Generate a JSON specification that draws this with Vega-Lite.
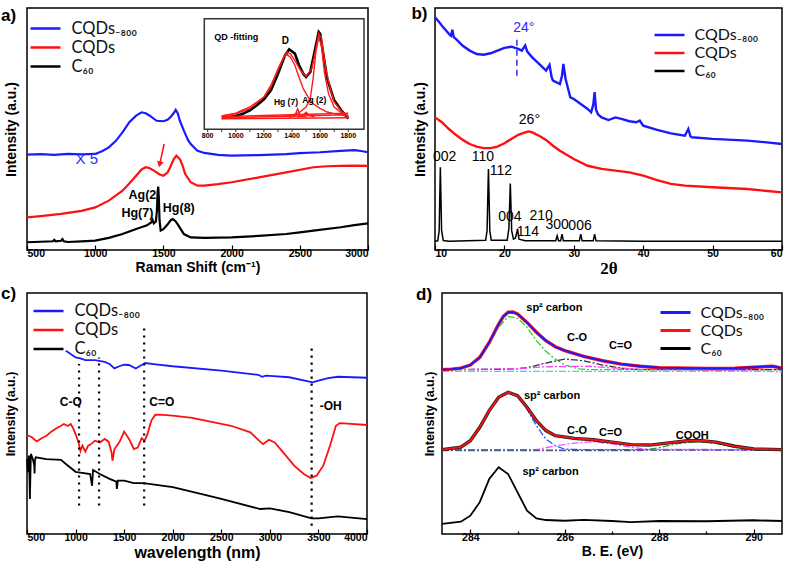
{
"$schema": "https://vega.github.io/schema/vega-lite/v6.json",
"background": "white",
"padding": {"left": 0, "top": 4, "right": 0, "bottom": 0},
"config": {
  "view": {"stroke": "#000", "strokeWidth": 1.5},
  "font": "Liberation Sans",
  "axis": {"grid": false, "domain": false, "labelFont": "Liberation Sans", "labelFontWeight": "bold", "labelFontSize": 10.5, "labelColor": "#000", "titleFont": "Liberation Sans", "titleFontWeight": "bold", "titleFontSize": 14, "titleColor": "#000", "tickColor": "#000", "tickWidth": 1.2, "labelPadding": 3, "titlePadding": 2},
  "axisY": {"labels": false, "ticks": false, "titlePadding": 9},
  "legend": {"title": null, "symbolType": "M-2,0L2,0", "symbolSize": 225, "symbolStrokeWidth": 2.5, "labelFont": "Lato", "labelColor": "#111", "rowPadding": 1, "labelOffset": 17, "padding": 0, "orient": "none"},
  "text": {"font": "Liberation Sans", "color": "#000"}
},
"resolve": {"scale": {"color": "independent"}},
"bounds": "full",
"spacing": 6,
"vconcat": [
{
"bounds": "flush",
"spacing": 67,
"resolve": {"scale": {"color": "independent"}},
"hconcat": [
{
  "width": 341, "height": 242,
  "resolve": {"scale": {"x": "independent", "y": "independent", "color": "independent"}},
  "layer": [
  {
    "layer": [
    {
      "data": {"values": [
        {"s":"CQDs₋₈₀₀","x":500,"y":39.4},{"s":"CQDs₋₈₀₀","x":600,"y":39.6},{"s":"CQDs₋₈₀₀","x":700,"y":39.3},{"s":"CQDs₋₈₀₀","x":800,"y":39.7},{"s":"CQDs₋₈₀₀","x":900,"y":39.5},{"s":"CQDs₋₈₀₀","x":1000,"y":39.7},{"s":"CQDs₋₈₀₀","x":1050,"y":40.8},{"s":"CQDs₋₈₀₀","x":1100,"y":42.4},{"s":"CQDs₋₈₀₀","x":1150,"y":45.0},{"s":"CQDs₋₈₀₀","x":1200,"y":48.6},{"s":"CQDs₋₈₀₀","x":1250,"y":52.8},{"s":"CQDs₋₈₀₀","x":1300,"y":55.5},{"s":"CQDs₋₈₀₀","x":1340,"y":56.9},{"s":"CQDs₋₈₀₀","x":1370,"y":56.5},{"s":"CQDs₋₈₀₀","x":1400,"y":55.5},{"s":"CQDs₋₈₀₀","x":1450,"y":53.4},{"s":"CQDs₋₈₀₀","x":1500,"y":53.2},{"s":"CQDs₋₈₀₀","x":1530,"y":53.8},{"s":"CQDs₋₈₀₀","x":1550,"y":54.8},{"s":"CQDs₋₈₀₀","x":1575,"y":56.5},{"s":"CQDs₋₈₀₀","x":1590,"y":57.9},{"s":"CQDs₋₈₀₀","x":1605,"y":56.5},{"s":"CQDs₋₈₀₀","x":1620,"y":53.5},{"s":"CQDs₋₈₀₀","x":1650,"y":49.3},{"s":"CQDs₋₈₀₀","x":1680,"y":45.5},{"s":"CQDs₋₈₀₀","x":1700,"y":43.8},{"s":"CQDs₋₈₀₀","x":1750,"y":41.0},{"s":"CQDs₋₈₀₀","x":1800,"y":40.1},{"s":"CQDs₋₈₀₀","x":1900,"y":39.3},{"s":"CQDs₋₈₀₀","x":2000,"y":39.0},{"s":"CQDs₋₈₀₀","x":2200,"y":39.2},{"s":"CQDs₋₈₀₀","x":2400,"y":39.6},{"s":"CQDs₋₈₀₀","x":2500,"y":40.0},{"s":"CQDs₋₈₀₀","x":2650,"y":40.4},{"s":"CQDs₋₈₀₀","x":2800,"y":41.0},{"s":"CQDs₋₈₀₀","x":2900,"y":41.3},{"s":"CQDs₋₈₀₀","x":2950,"y":40.9},{"s":"CQDs₋₈₀₀","x":3000,"y":40.4},
        {"s":"CQDs","x":500,"y":13.5},{"s":"CQDs","x":600,"y":14.0},{"s":"CQDs","x":750,"y":14.9},{"s":"CQDs","x":900,"y":16.2},{"s":"CQDs","x":1000,"y":17.6},{"s":"CQDs","x":1100,"y":20.4},{"s":"CQDs","x":1200,"y":24.5},{"s":"CQDs","x":1250,"y":27.5},{"s":"CQDs","x":1300,"y":30.7},{"s":"CQDs","x":1340,"y":33.3},{"s":"CQDs","x":1370,"y":34.2},{"s":"CQDs","x":1400,"y":33.8},{"s":"CQDs","x":1430,"y":32.8},{"s":"CQDs","x":1470,"y":31.3},{"s":"CQDs","x":1500,"y":30.7},{"s":"CQDs","x":1530,"y":32.0},{"s":"CQDs","x":1550,"y":34.2},{"s":"CQDs","x":1575,"y":37.5},{"s":"CQDs","x":1595,"y":39.0},{"s":"CQDs","x":1620,"y":37.6},{"s":"CQDs","x":1640,"y":35.0},{"s":"CQDs","x":1660,"y":31.4},{"s":"CQDs","x":1700,"y":28.0},{"s":"CQDs","x":1750,"y":26.6},{"s":"CQDs","x":1800,"y":26.6},{"s":"CQDs","x":1900,"y":27.2},{"s":"CQDs","x":2000,"y":28.0},{"s":"CQDs","x":2200,"y":30.0},{"s":"CQDs","x":2400,"y":32.1},{"s":"CQDs","x":2600,"y":34.2},{"s":"CQDs","x":2700,"y":34.6},{"s":"CQDs","x":2800,"y":34.8},{"s":"CQDs","x":2900,"y":34.9},{"s":"CQDs","x":3000,"y":34.8},
        {"s":"C₆₀","x":500,"y":3.2},{"s":"C₆₀","x":600,"y":3.4},{"s":"C₆₀","x":690,"y":3.6},{"s":"C₆₀","x":700,"y":4.2},{"s":"C₆₀","x":710,"y":3.6},{"s":"C₆₀","x":750,"y":3.8},{"s":"C₆₀","x":760,"y":4.5},{"s":"C₆₀","x":770,"y":3.6},{"s":"C₆₀","x":800,"y":3.3},{"s":"C₆₀","x":900,"y":3.6},{"s":"C₆₀","x":1000,"y":3.9},{"s":"C₆₀","x":1100,"y":5.0},{"s":"C₆₀","x":1200,"y":6.6},{"s":"C₆₀","x":1300,"y":8.7},{"s":"C₆₀","x":1380,"y":10.2},{"s":"C₆₀","x":1410,"y":11.4},{"s":"C₆₀","x":1420,"y":12.5},{"s":"C₆₀","x":1430,"y":11.0},{"s":"C₆₀","x":1445,"y":11.8},{"s":"C₆₀","x":1452,"y":16},{"s":"C₆₀","x":1458,"y":24},{"s":"C₆₀","x":1462,"y":26.2},{"s":"C₆₀","x":1466,"y":22},{"s":"C₆₀","x":1472,"y":12},{"s":"C₆₀","x":1480,"y":8.0},{"s":"C₆₀","x":1500,"y":8.6},{"s":"C₆₀","x":1530,"y":10.5},{"s":"C₆₀","x":1555,"y":12.4},{"s":"C₆₀","x":1570,"y":12.8},{"s":"C₆₀","x":1590,"y":11.8},{"s":"C₆₀","x":1610,"y":10.2},{"s":"C₆₀","x":1650,"y":6.6},{"s":"C₆₀","x":1700,"y":5.2},{"s":"C₆₀","x":1800,"y":5.0},{"s":"C₆₀","x":2000,"y":5.2},{"s":"C₆₀","x":2200,"y":5.8},{"s":"C₆₀","x":2400,"y":6.6},{"s":"C₆₀","x":2500,"y":7.3},{"s":"C₆₀","x":2600,"y":8.0},{"s":"C₆₀","x":2800,"y":9.4},{"s":"C₆₀","x":2900,"y":10.3},{"s":"C₆₀","x":3000,"y":11.0}
      ]},
      "mark": {"type": "line", "strokeWidth": 2.2},
      "encoding": {
        "x": {"field": "x", "type": "quantitative", "scale": {"domain": [500, 3000], "nice": false, "zero": false},
              "axis": {"title": "Raman Shift (cm⁻¹)", "values": [500,750,1000,1250,1500,1750,2000,2250,2500,2750,3000], "format": "d", "labelExpr": "datum.value % 500 == 0 ? datum.label : ''", "tickSize": {"condition": {"test": "datum.value % 500 == 0", "value": -5}, "value": -3}}},
        "y": {"field": "y", "type": "quantitative", "scale": {"domain": [0, 100], "nice": false, "zero": false}, "axis": {"title": "Intensity (a.u.)", "titleFontSize": 14}},
        "color": {"field": "s", "type": "nominal", "scale": {"domain": ["CQDs₋₈₀₀","CQDs","C₆₀"], "range": ["#1a1aff","#ff1010","#000000"]},
                  "legend": {"legendX": 9.5, "legendY": 11.5, "labelFontSize": 16.5}}
      }
    },
    {
      "data": {"values": [{"x":1309,"y":15.2,"t":"Hg(7)"},{"x":1346,"y":22.9,"t":"Ag(2"},{"x":1613,"y":17.2,"t":"Hg(8)"}]},
      "mark": {"type": "text", "fontWeight": "bold", "fontSize": 12.5},
      "encoding": {"x": {"field": "x", "type": "quantitative"}, "y": {"field": "y", "type": "quantitative"}, "text": {"field": "t"}}
    },
    {
      "data": {"values": [{"x":938,"y":37.6,"t":"X 5"}]},
      "mark": {"type": "text", "fontSize": 15, "color": "#2b2bff"},
      "encoding": {"x": {"field": "x", "type": "quantitative"}, "y": {"field": "y", "type": "quantitative"}, "text": {"field": "t"}}
    },
    {
      "data": {"values": [{"x":310,"y":96.7,"t":"a)"}]},
      "mark": {"type": "text", "fontSize": 17, "fontWeight": "bold", "align": "left"},
      "encoding": {"x": {"field": "x", "type": "quantitative"}, "y": {"field": "y", "type": "quantitative"}, "text": {"field": "t"}}
    },
    {
      "data": {"values": [{"x":1505,"y":43.8,"x2":1473,"y2":35.4}]},
      "mark": {"type": "rule", "color": "#ff1010", "strokeWidth": 1.5},
      "encoding": {"x": {"field": "x", "type": "quantitative"}, "y": {"field": "y", "type": "quantitative"}, "x2": {"field": "x2"}, "y2": {"field": "y2"}}
    },
    {
      "data": {"values": [{"x":1473,"y":35.4}]},
      "mark": {"type": "point", "shape": "triangle-down", "filled": true, "color": "#ff1010", "size": 45, "angle": 12, "opacity": 1},
      "encoding": {"x": {"field": "x", "type": "quantitative"}, "y": {"field": "y", "type": "quantitative"}}
    }
    ]
  },
  {
    "layer": [
    {
      "data": {"values": [{"x1":776,"x2":1912,"y1":0,"y2":100}]},
      "mark": {"type": "rect", "fill": "white", "stroke": "#333", "strokeWidth": 1.5},
      "encoding": {
        "x": {"field": "x1", "type": "quantitative", "scale": {"domain": [776, 1912], "range": [177.3, 337], "nice": false, "zero": false}, "axis": null},
        "x2": {"field": "x2"},
        "y": {"field": "y1", "type": "quantitative", "scale": {"domain": [0, 100], "range": [121.3, 10.7], "nice": false, "zero": false}, "axis": null},
        "y2": {"field": "y2"}
      }
    },
    {
      "data": {"values": [
        {"x":900,"y":10.2},{"x":950,"y":11},{"x":1000,"y":12.0},{"x":1050,"y":14},{"x":1100,"y":17.2},{"x":1150,"y":21.7},{"x":1200,"y":27.1},{"x":1250,"y":35.3},{"x":1300,"y":50.3},{"x":1350,"y":66.9},{"x":1380,"y":72.3},{"x":1420,"y":68.4},{"x":1450,"y":57.9},{"x":1480,"y":50.3},{"x":1500,"y":47.3},{"x":1530,"y":51.8},{"x":1560,"y":69.9},{"x":1590,"y":88.0},{"x":1600,"y":86.4},{"x":1620,"y":69.9},{"x":1650,"y":45.8},{"x":1700,"y":26.2},{"x":1750,"y":17.2},{"x":1800,"y":9.6}
      ]},
      "mark": {"type": "line", "color": "#000", "strokeWidth": 2.6},
      "encoding": {"x": {"field": "x", "type": "quantitative"}, "y": {"field": "y", "type": "quantitative"}}
    },
    {
      "data": {"values": [
        {"s":"sum","x":900,"y":12},{"s":"sum","x":1000,"y":14.1},{"s":"sum","x":1100,"y":18.6},{"s":"sum","x":1200,"y":29.2},{"s":"sum","x":1250,"y":40},{"s":"sum","x":1300,"y":53.3},{"s":"sum","x":1340,"y":65},{"s":"sum","x":1365,"y":69.9},{"s":"sum","x":1390,"y":68},{"s":"sum","x":1420,"y":62.4},{"s":"sum","x":1460,"y":53.3},{"s":"sum","x":1500,"y":47.9},{"s":"sum","x":1540,"y":54.8},{"s":"sum","x":1570,"y":72.9},{"s":"sum","x":1590,"y":86.4},{"s":"sum","x":1610,"y":81.9},{"s":"sum","x":1640,"y":54.8},{"s":"sum","x":1670,"y":38},{"s":"sum","x":1700,"y":24.7},{"s":"sum","x":1750,"y":16.5},{"s":"sum","x":1800,"y":11.1},
        {"s":"D","x":900,"y":12},{"s":"D","x":1000,"y":14.5},{"s":"D","x":1100,"y":20.2},{"s":"D","x":1200,"y":29.2},{"s":"D","x":1250,"y":38},{"s":"D","x":1300,"y":54.7},{"s":"D","x":1340,"y":65},{"s":"D","x":1365,"y":67.5},{"s":"D","x":1390,"y":65},{"s":"D","x":1420,"y":57.9},{"s":"D","x":1450,"y":47},{"s":"D","x":1480,"y":36.7},{"s":"D","x":1520,"y":28},{"s":"D","x":1550,"y":23.1},{"s":"D","x":1600,"y":19},{"s":"D","x":1650,"y":15.6},{"s":"D","x":1720,"y":13.5},{"s":"D","x":1800,"y":12},
        {"s":"G","x":1300,"y":11.5},{"s":"G","x":1400,"y":12.7},{"s":"G","x":1450,"y":15},{"s":"G","x":1500,"y":20.2},{"s":"G","x":1530,"y":28},{"s":"G","x":1550,"y":45.8},{"s":"G","x":1570,"y":70},{"s":"G","x":1590,"y":83.5},{"s":"G","x":1610,"y":75},{"s":"G","x":1630,"y":51.8},{"s":"G","x":1660,"y":32},{"s":"G","x":1700,"y":20.2},{"s":"G","x":1750,"y":15},{"s":"G","x":1800,"y":12},
        {"s":"Hg","x":1380,"y":11},{"s":"Hg","x":1420,"y":12},{"s":"Hg","x":1440,"y":18.5},{"s":"Hg","x":1460,"y":12},{"s":"Hg","x":1500,"y":11},
        {"s":"Ag","x":1440,"y":11},{"s":"Ag","x":1480,"y":13},{"s":"Ag","x":1500,"y":15.5},{"s":"Ag","x":1520,"y":13},{"s":"Ag","x":1560,"y":11},
        {"s":"b1","x":900,"y":11.5},{"s":"b1","x":1800,"y":14.5},
        {"s":"b2","x":900,"y":9.5},{"s":"b2","x":1800,"y":10.5},
        {"s":"b3","x":900,"y":10.5},{"s":"b3","x":1800,"y":13}
      ]},
      "mark": {"type": "line", "color": "#ff1a1a", "strokeWidth": 1.4},
      "encoding": {"x": {"field": "x", "type": "quantitative"}, "y": {"field": "y", "type": "quantitative"}, "detail": {"field": "s"}}
    },
    {
      "data": {"values": [{"t":800},{"t":900},{"t":1000},{"t":1100},{"t":1200},{"t":1300},{"t":1400},{"t":1500},{"t":1600},{"t":1700},{"t":1800}]},
      "mark": {"type": "rule", "color": "#333", "strokeWidth": 1},
      "encoding": {"x": {"field": "t", "type": "quantitative"}, "y": {"datum": 0}, "y2": {"datum": -2.5}}
    },
    {
      "data": {"values": [{"t":800},{"t":1000},{"t":1200},{"t":1400},{"t":1600},{"t":1800}]},
      "mark": {"type": "text", "fontSize": 7, "fontWeight": "bold"},
      "encoding": {"x": {"field": "t", "type": "quantitative"}, "y": {"datum": -6.5}, "text": {"field": "t", "type": "quantitative", "format": "d"}}
    },
    {
      "data": {"values": [{"x":847,"y":83.5,"t":"QD  -fitting"}]},
      "mark": {"type": "text", "fontSize": 9, "fontWeight": "bold", "align": "left"},
      "encoding": {"x": {"field": "x", "type": "quantitative"}, "y": {"field": "y", "type": "quantitative"}, "text": {"field": "t"}}
    },
    {
      "data": {"values": [{"x":1352,"y":79.5,"t":"D"}]},
      "mark": {"type": "text", "fontSize": 10, "fontWeight": "bold"},
      "encoding": {"x": {"field": "x", "type": "quantitative"}, "y": {"field": "y", "type": "quantitative"}, "text": {"field": "t"}}
    },
    {
      "data": {"values": [{"x":1357,"y":24.7,"t":"Hg (7)"},{"x":1559,"y":26.2,"t":"Ag (2)"}]},
      "mark": {"type": "text", "fontSize": 8.5, "fontWeight": "bold"},
      "encoding": {"x": {"field": "x", "type": "quantitative"}, "y": {"field": "y", "type": "quantitative"}, "text": {"field": "t"}}
    }
    ]
  }
  ]
},
{
  "width": 347, "height": 242,
  "layer": [
  {
    "data": {"values": [
      {"s":"CQDs₋₈₀₀","x":10,"y":96.2},{"s":"CQDs₋₈₀₀","x":10.5,"y":94.5},{"s":"CQDs₋₈₀₀","x":11,"y":92.7},{"s":"CQDs₋₈₀₀","x":11.5,"y":91},{"s":"CQDs₋₈₀₀","x":12,"y":89.3},{"s":"CQDs₋₈₀₀","x":12.3,"y":88.5},{"s":"CQDs₋₈₀₀","x":12.5,"y":91},{"s":"CQDs₋₈₀₀","x":12.7,"y":88},{"s":"CQDs₋₈₀₀","x":13,"y":87.2},{"s":"CQDs₋₈₀₀","x":14,"y":84.4},{"s":"CQDs₋₈₀₀","x":15,"y":82.4},{"s":"CQDs₋₈₀₀","x":16,"y":81.0},{"s":"CQDs₋₈₀₀","x":17,"y":80.7},{"s":"CQDs₋₈₀₀","x":18,"y":81.3},{"s":"CQDs₋₈₀₀","x":19,"y":82.4},{"s":"CQDs₋₈₀₀","x":20,"y":83.5},{"s":"CQDs₋₈₀₀","x":21,"y":84.0},{"s":"CQDs₋₈₀₀","x":22,"y":83.1},{"s":"CQDs₋₈₀₀","x":22.5,"y":82.4},{"s":"CQDs₋₈₀₀","x":23,"y":84.5},{"s":"CQDs₋₈₀₀","x":23.3,"y":82},{"s":"CQDs₋₈₀₀","x":24,"y":79.6},{"s":"CQDs₋₈₀₀","x":25,"y":76.9},{"s":"CQDs₋₈₀₀","x":26,"y":74.1},{"s":"CQDs₋₈₀₀","x":26.5,"y":76.5},{"s":"CQDs₋₈₀₀","x":26.8,"y":71.5},{"s":"CQDs₋₈₀₀","x":27,"y":70.0},{"s":"CQDs₋₈₀₀","x":28,"y":68.6},{"s":"CQDs₋₈₀₀","x":28.3,"y":72},{"s":"CQDs₋₈₀₀","x":28.5,"y":76.9},{"s":"CQDs₋₈₀₀","x":28.8,"y":71},{"s":"CQDs₋₈₀₀","x":29,"y":68.6},{"s":"CQDs₋₈₀₀","x":29.5,"y":63.1},{"s":"CQDs₋₈₀₀","x":30,"y":62.4},{"s":"CQDs₋₈₀₀","x":31,"y":60.3},{"s":"CQDs₋₈₀₀","x":32,"y":58.3},{"s":"CQDs₋₈₀₀","x":32.5,"y":56.9},{"s":"CQDs₋₈₀₀","x":32.8,"y":60},{"s":"CQDs₋₈₀₀","x":33,"y":65.2},{"s":"CQDs₋₈₀₀","x":33.2,"y":58},{"s":"CQDs₋₈₀₀","x":33.5,"y":56},{"s":"CQDs₋₈₀₀","x":34,"y":54.8},{"s":"CQDs₋₈₀₀","x":35,"y":53.7},{"s":"CQDs₋₈₀₀","x":36,"y":54.8},{"s":"CQDs₋₈₀₀","x":37,"y":54.1},{"s":"CQDs₋₈₀₀","x":38,"y":53.2},{"s":"CQDs₋₈₀₀","x":39,"y":52.8},{"s":"CQDs₋₈₀₀","x":39.5,"y":53.5},{"s":"CQDs₋₈₀₀","x":40,"y":51.4},{"s":"CQDs₋₈₀₀","x":42,"y":49.6},{"s":"CQDs₋₈₀₀","x":44,"y":48.2},{"s":"CQDs₋₈₀₀","x":46,"y":47.2},{"s":"CQDs₋₈₀₀","x":46.5,"y":50.0},{"s":"CQDs₋₈₀₀","x":46.8,"y":47},{"s":"CQDs₋₈₀₀","x":47,"y":46.6},{"s":"CQDs₋₈₀₀","x":50,"y":45.9},{"s":"CQDs₋₈₀₀","x":55,"y":45.2},{"s":"CQDs₋₈₀₀","x":57,"y":44.7},{"s":"CQDs₋₈₀₀","x":60,"y":43.8},
      {"s":"CQDs","x":10,"y":54.8},{"s":"CQDs","x":11,"y":52.8},{"s":"CQDs","x":12,"y":50.0},{"s":"CQDs","x":13,"y":47.6},{"s":"CQDs","x":14,"y":45.5},{"s":"CQDs","x":15,"y":43.8},{"s":"CQDs","x":16,"y":42.7},{"s":"CQDs","x":17,"y":42.1},{"s":"CQDs","x":18,"y":42.1},{"s":"CQDs","x":19,"y":42.7},{"s":"CQDs","x":20,"y":44.1},{"s":"CQDs","x":21,"y":45.9},{"s":"CQDs","x":22,"y":47.6},{"s":"CQDs","x":23,"y":48.6},{"s":"CQDs","x":23.5,"y":49.0},{"s":"CQDs","x":24,"y":48.6},{"s":"CQDs","x":25,"y":47.2},{"s":"CQDs","x":26,"y":45.5},{"s":"CQDs","x":27,"y":43.1},{"s":"CQDs","x":28,"y":41.0},{"s":"CQDs","x":30,"y":37.6},{"s":"CQDs","x":32,"y":34.8},{"s":"CQDs","x":34,"y":33.5},{"s":"CQDs","x":36,"y":32.8},{"s":"CQDs","x":38,"y":32.1},{"s":"CQDs","x":40,"y":30.7},{"s":"CQDs","x":42,"y":28.9},{"s":"CQDs","x":44,"y":27.3},{"s":"CQDs","x":46,"y":26.6},{"s":"CQDs","x":50,"y":25.9},{"s":"CQDs","x":55,"y":25.2},{"s":"CQDs","x":60,"y":23.8}
    ]},
    "mark": {"type": "line", "strokeWidth": 2.4},
    "encoding": {
      "x": {"field": "x", "type": "quantitative", "scale": {"domain": [10, 60], "nice": false, "zero": false},
            "axis": {"title": "2θ", "titleFont": "Liberation Serif", "titleFontSize": 17, "values": [10,15,20,25,30,35,40,45,50,55,60], "format": "d", "labelExpr": "datum.value % 10 == 0 ? datum.label : ''", "tickSize": {"condition": {"test": "datum.value % 10 == 0", "value": -5}, "value": -3}}},
      "y": {"field": "y", "type": "quantitative", "scale": {"domain": [0, 100], "nice": false, "zero": false}, "axis": {"title": "Intensity (a.u.)", "titleFontSize": 14, "titlePadding": 8}},
      "color": {"field": "s", "type": "nominal", "scale": {"domain": ["CQDs₋₈₀₀","CQDs","C₆₀"], "range": ["#1a1aff","#ff1010","#000000"]},
                "legend": {"legendX": 225.5, "legendY": 18, "labelFontSize": 16, "labelOffset": 16}}
    }
  },
  {
    "data": {"values": [
      {"s":"C₆₀","x":10,"y":3.6},{"s":"C₆₀","x":10.4,"y":3.8},{"s":"C₆₀","x":10.6,"y":8},{"s":"C₆₀","x":10.77,"y":34.2},{"s":"C₆₀","x":10.95,"y":8},{"s":"C₆₀","x":11.2,"y":3.9},{"s":"C₆₀","x":12,"y":3.6},{"s":"C₆₀","x":17.3,"y":4},{"s":"C₆₀","x":17.5,"y":8},{"s":"C₆₀","x":17.7,"y":33.5},{"s":"C₆₀","x":17.9,"y":8},{"s":"C₆₀","x":18.1,"y":4},{"s":"C₆₀","x":20.4,"y":4},{"s":"C₆₀","x":20.65,"y":9},{"s":"C₆₀","x":20.85,"y":27.5},{"s":"C₆₀","x":21.05,"y":8},{"s":"C₆₀","x":21.3,"y":4.5},{"s":"C₆₀","x":21.6,"y":5},{"s":"C₆₀","x":21.9,"y":8.7},{"s":"C₆₀","x":22.1,"y":4.5},{"s":"C₆₀","x":23,"y":3.8},{"s":"C₆₀","x":27.4,"y":3.8},{"s":"C₆₀","x":27.6,"y":5.9},{"s":"C₆₀","x":27.8,"y":3.8},{"s":"C₆₀","x":28.1,"y":3.8},{"s":"C₆₀","x":28.3,"y":6.6},{"s":"C₆₀","x":28.5,"y":3.8},{"s":"C₆₀","x":30.8,"y":3.8},{"s":"C₆₀","x":31.0,"y":6.6},{"s":"C₆₀","x":31.2,"y":3.8},{"s":"C₆₀","x":32.8,"y":3.8},{"s":"C₆₀","x":33.0,"y":6.6},{"s":"C₆₀","x":33.2,"y":3.8},{"s":"C₆₀","x":40,"y":3.6},{"s":"C₆₀","x":50,"y":3.6},{"s":"C₆₀","x":60,"y":3.6}
    ]},
    "mark": {"type": "line", "strokeWidth": 1.5, "color": "#000"},
    "encoding": {"x": {"field": "x", "type": "quantitative"}, "y": {"field": "y", "type": "quantitative"}}
  },
  {
    "data": {"values": [{"x":11.4,"y":38.6,"t":"002"},{"x":16.9,"y":38.3,"t":"110"},{"x":19.5,"y":32.5,"t":"112"},{"x":20.8,"y":13.8,"t":"004"},{"x":23.4,"y":7.3,"t":"114"},{"x":25.3,"y":13.9,"t":"210"},{"x":27.6,"y":10.3,"t":"300"},{"x":30.9,"y":9.8,"t":"006"},{"x":23.6,"y":53.7,"t":"26°"}]},
    "mark": {"type": "text", "fontSize": 14},
    "encoding": {"x": {"field": "x", "type": "quantitative"}, "y": {"field": "y", "type": "quantitative"}, "text": {"field": "t"}}
  },
  {
    "data": {"values": [{"x":22.8,"y":91.7,"t":"24°"}]},
    "mark": {"type": "text", "fontSize": 14, "color": "#2b2bff"},
    "encoding": {"x": {"field": "x", "type": "quantitative"}, "y": {"field": "y", "type": "quantitative"}, "text": {"field": "t"}}
  },
  {
    "data": {"values": [{"x":21.8,"y":72,"y2":88.5}]},
    "mark": {"type": "rule", "color": "#2b2bff", "strokeWidth": 1.5, "strokeDash": [6, 4]},
    "encoding": {"x": {"field": "x", "type": "quantitative"}, "y": {"field": "y", "type": "quantitative"}, "y2": {"field": "y2"}}
  },
  {
    "data": {"values": [{"x":6.6,"y":97.5,"t":"b)"}]},
    "mark": {"type": "text", "fontSize": 17, "fontWeight": "bold", "align": "left"},
    "encoding": {"x": {"field": "x", "type": "quantitative"}, "y": {"field": "y", "type": "quantitative"}, "text": {"field": "t"}}
  }
  ]
}
]
},
{
"bounds": "flush",
"spacing": 75,
"resolve": {"scale": {"color": "independent"}},
"hconcat": [
{
  "width": 340, "height": 241,
  "layer": [
  {
    "data": {"values": [
      {"s":"CQDs₋₈₀₀","x":900,"y":74.1},{"s":"CQDs₋₈₀₀","x":950,"y":72.8},{"s":"CQDs₋₈₀₀","x":1000,"y":71.4},{"s":"CQDs₋₈₀₀","x":1050,"y":71.0},{"s":"CQDs₋₈₀₀","x":1100,"y":70.3},{"s":"CQDs₋₈₀₀","x":1200,"y":70.3},{"s":"CQDs₋₈₀₀","x":1300,"y":69.6},{"s":"CQDs₋₈₀₀","x":1350,"y":68.7},{"s":"CQDs₋₈₀₀","x":1400,"y":66.9},{"s":"CQDs₋₈₀₀","x":1450,"y":67.8},{"s":"CQDs₋₈₀₀","x":1500,"y":68.4},{"s":"CQDs₋₈₀₀","x":1550,"y":68.3},{"s":"CQDs₋₈₀₀","x":1620,"y":66.9},{"s":"CQDs₋₈₀₀","x":1680,"y":68.3},{"s":"CQDs₋₈₀₀","x":1720,"y":69.1},{"s":"CQDs₋₈₀₀","x":1800,"y":68.7},{"s":"CQDs₋₈₀₀","x":2000,"y":67.8},{"s":"CQDs₋₈₀₀","x":2500,"y":66.0},{"s":"CQDs₋₈₀₀","x":2880,"y":64.3},{"s":"CQDs₋₈₀₀","x":2920,"y":63.5},{"s":"CQDs₋₈₀₀","x":2960,"y":64.0},{"s":"CQDs₋₈₀₀","x":3000,"y":63.9},{"s":"CQDs₋₈₀₀","x":3200,"y":63.3},{"s":"CQDs₋₈₀₀","x":3440,"y":61.2},{"s":"CQDs₋₈₀₀","x":3500,"y":61.9},{"s":"CQDs₋₈₀₀","x":3600,"y":62.9},{"s":"CQDs₋₈₀₀","x":3700,"y":63.5},{"s":"CQDs₋₈₀₀","x":4000,"y":63.1},
      {"s":"CQDs","x":500,"y":39.7},{"s":"CQDs","x":550,"y":38.8},{"s":"CQDs","x":600,"y":37.1},{"s":"CQDs","x":650,"y":38.4},{"s":"CQDs","x":700,"y":39.4},{"s":"CQDs","x":750,"y":41.1},{"s":"CQDs","x":800,"y":42.4},{"s":"CQDs","x":850,"y":43.5},{"s":"CQDs","x":880,"y":44.2},{"s":"CQDs","x":920,"y":43.4},{"s":"CQDs","x":950,"y":44.2},{"s":"CQDs","x":970,"y":42.9},{"s":"CQDs","x":1000,"y":40.1},{"s":"CQDs","x":1030,"y":36.7},{"s":"CQDs","x":1050,"y":33.2},{"s":"CQDs","x":1070,"y":35.4},{"s":"CQDs","x":1100,"y":32.9},{"s":"CQDs","x":1130,"y":35.4},{"s":"CQDs","x":1160,"y":36.0},{"s":"CQDs","x":1200,"y":37.4},{"s":"CQDs","x":1250,"y":36.7},{"s":"CQDs","x":1300,"y":38.1},{"s":"CQDs","x":1340,"y":37.0},{"s":"CQDs","x":1370,"y":32.7},{"s":"CQDs","x":1380,"y":29.2},{"s":"CQDs","x":1400,"y":34.0},{"s":"CQDs","x":1450,"y":36.7},{"s":"CQDs","x":1500,"y":41.1},{"s":"CQDs","x":1550,"y":38.1},{"s":"CQDs","x":1600,"y":34.0},{"s":"CQDs","x":1640,"y":34.6},{"s":"CQDs","x":1680,"y":38.4},{"s":"CQDs","x":1710,"y":37.4},{"s":"CQDs","x":1740,"y":40.1},{"s":"CQDs","x":1780,"y":45.6},{"s":"CQDs","x":1820,"y":48.0},{"s":"CQDs","x":1900,"y":47.9},{"s":"CQDs","x":2000,"y":47.6},{"s":"CQDs","x":2200,"y":46.7},{"s":"CQDs","x":2400,"y":45.1},{"s":"CQDs","x":2600,"y":43.5},{"s":"CQDs","x":2800,"y":40.8},{"s":"CQDs","x":2900,"y":37.0},{"s":"CQDs","x":2930,"y":36.0},{"s":"CQDs","x":2990,"y":37.8},{"s":"CQDs","x":3050,"y":36.7},{"s":"CQDs","x":3150,"y":32.0},{"s":"CQDs","x":3250,"y":27.2},{"s":"CQDs","x":3350,"y":23.8},{"s":"CQDs","x":3420,"y":22.2},{"s":"CQDs","x":3480,"y":23.1},{"s":"CQDs","x":3550,"y":27.2},{"s":"CQDs","x":3620,"y":35.4},{"s":"CQDs","x":3680,"y":43.5},{"s":"CQDs","x":3720,"y":44.6},{"s":"CQDs","x":3800,"y":44.4},{"s":"CQDs","x":4000,"y":43.8},
      {"s":"C₆₀","x":500,"y":29.9},{"s":"C₆₀","x":510,"y":24.5},{"s":"C₆₀","x":520,"y":31.3},{"s":"C₆₀","x":530,"y":13.6},{"s":"C₆₀","x":540,"y":32.0},{"s":"C₆₀","x":560,"y":29.9},{"s":"C₆₀","x":575,"y":27.2},{"s":"C₆₀","x":578,"y":24.0},{"s":"C₆₀","x":582,"y":29.5},{"s":"C₆₀","x":590,"y":30.6},{"s":"C₆₀","x":700,"y":29.9},{"s":"C₆₀","x":850,"y":29.6},{"s":"C₆₀","x":900,"y":27.9},{"s":"C₆₀","x":1000,"y":24.7},{"s":"C₆₀","x":1050,"y":24.4},{"s":"C₆₀","x":1150,"y":23.8},{"s":"C₆₀","x":1170,"y":19.0},{"s":"C₆₀","x":1180,"y":25.4},{"s":"C₆₀","x":1250,"y":23.8},{"s":"C₆₀","x":1350,"y":21.8},{"s":"C₆₀","x":1420,"y":20.7},{"s":"C₆₀","x":1425,"y":17.7},{"s":"C₆₀","x":1435,"y":21.1},{"s":"C₆₀","x":1500,"y":21.1},{"s":"C₆₀","x":1600,"y":20.1},{"s":"C₆₀","x":1700,"y":20.1},{"s":"C₆₀","x":2000,"y":18.4},{"s":"C₆₀","x":2300,"y":15.6},{"s":"C₆₀","x":2500,"y":13.6},{"s":"C₆₀","x":2900,"y":9.5},{"s":"C₆₀","x":3000,"y":9.8},{"s":"C₆₀","x":3200,"y":8.2},{"s":"C₆₀","x":3430,"y":5.7},{"s":"C₆₀","x":3500,"y":5.7},{"s":"C₆₀","x":3700,"y":6.5},{"s":"C₆₀","x":4000,"y":5.4}
    ]},
    "mark": {"type": "line", "strokeWidth": 1.8},
    "encoding": {
      "x": {"field": "x", "type": "quantitative", "scale": {"domain": [500, 4000], "nice": false, "zero": false},
            "axis": {"title": "wavelength (nm)", "titleFontSize": 16, "values": [500,750,1000,1250,1500,1750,2000,2250,2500,2750,3000,3250,3500,3750,4000], "format": "d", "labelExpr": "datum.value % 500 == 0 ? datum.label : ''", "tickSize": {"condition": {"test": "datum.value % 500 == 0", "value": -5}, "value": -3}}},
      "y": {"field": "y", "type": "quantitative", "scale": {"domain": [-0.7, 97.7], "nice": false, "zero": false}, "axis": {"title": "Intensity (a.u.)", "titleFontSize": 12.5, "titlePadding": 10}},
      "color": {"field": "s", "type": "nominal", "scale": {"domain": ["CQDs₋₈₀₀","CQDs","C₆₀"], "range": ["#1a1aff","#ff1010","#000000"]},
                "legend": {"legendX": 12.5, "legendY": 9, "labelFontSize": 16.5}}
    }
  },
  {
    "data": {"values": [{"x":1036,"y":10.9,"y2":68.7},{"x":1242,"y":10.9,"y2":71.4},{"x":1706,"y":10.9,"y2":83.3},{"x":3430,"y":2.7,"y2":75.1}]},
    "mark": {"type": "rule", "color": "#000", "strokeWidth": 2.2, "strokeDash": [2.2, 4.8]},
    "encoding": {"x": {"field": "x", "type": "quantitative"}, "y": {"field": "y", "type": "quantitative"}, "y2": {"field": "y2"}}
  },
  {
    "data": {"values": [{"x":950,"y":53.3,"t":"C-O"},{"x":1887,"y":53.3,"t":"C=O"},{"x":3627,"y":51.7,"t":"-OH"}]},
    "mark": {"type": "text", "fontSize": 12, "fontWeight": "bold"},
    "encoding": {"x": {"field": "x", "type": "quantitative"}, "y": {"field": "y", "type": "quantitative"}, "text": {"field": "t"}}
  },
  {
    "data": {"values": [{"x":232,"y":97.3,"t":"c)"}]},
    "mark": {"type": "text", "fontSize": 17, "fontWeight": "bold", "align": "left"},
    "encoding": {"x": {"field": "x", "type": "quantitative"}, "y": {"field": "y", "type": "quantitative"}, "text": {"field": "t"}}
  }
  ]
},
{
  "width": 340, "height": 241,
  "resolve": {"scale": {"color": "independent", "strokeDash": "independent"}},
  "layer": [
  {
    "data": {"values": [
      {"f":"sp2a","x":283.4,"y":68.9},{"f":"sp2a","x":283.8,"y":69.5},{"f":"sp2a","x":284.0,"y":70.6},{"f":"sp2a","x":284.2,"y":73.5},{"f":"sp2a","x":284.4,"y":79.5},{"f":"sp2a","x":284.6,"y":86.5},{"f":"sp2a","x":284.8,"y":91.0},{"f":"sp2a","x":285.0,"y":90.2},{"f":"sp2a","x":285.2,"y":86.5},{"f":"sp2a","x":285.4,"y":80.9},{"f":"sp2a","x":285.6,"y":76.5},{"f":"sp2a","x":285.8,"y":73.3},{"f":"sp2a","x":286.0,"y":70.8},{"f":"sp2a","x":286.3,"y":69.2},{"f":"sp2a","x":286.6,"y":68.9},{"f":"sp2a","x":290.6,"y":68.9},
      {"f":"COa","x":283.4,"y":68.9},{"f":"COa","x":284.6,"y":69.0},{"f":"COa","x":285.0,"y":69.3},{"f":"COa","x":285.2,"y":69.7},{"f":"COa","x":285.6,"y":71.6},{"f":"COa","x":286.0,"y":73.3},{"f":"COa","x":286.4,"y":72.6},{"f":"COa","x":286.8,"y":70.8},{"f":"COa","x":287.2,"y":69.5},{"f":"COa","x":287.6,"y":68.9},{"f":"COa","x":290.6,"y":68.9},
      {"f":"ma","x":283.4,"y":68.9},{"f":"ma","x":285.0,"y":69.3},{"f":"ma","x":285.5,"y":70.0},{"f":"ma","x":286.0,"y":70.2},{"f":"ma","x":286.5,"y":70.3},{"f":"ma","x":287.0,"y":69.6},{"f":"ma","x":287.6,"y":69.0},{"f":"ma","x":289.0,"y":68.8},{"f":"ma","x":290.6,"y":68.0},
      {"f":"ca","x":283.4,"y":68.2},{"f":"ca","x":290.6,"y":68.2},
      {"f":"sp2b","x":283.4,"y":35.7},{"f":"sp2b","x":283.8,"y":36.7},{"f":"sp2b","x":284.0,"y":39.4},{"f":"sp2b","x":284.2,"y":45.0},{"f":"sp2b","x":284.4,"y":51.9},{"f":"sp2b","x":284.6,"y":57.4},{"f":"sp2b","x":284.8,"y":59.5},{"f":"sp2b","x":285.0,"y":58.0},{"f":"sp2b","x":285.2,"y":52.5},{"f":"sp2b","x":285.4,"y":45.6},{"f":"sp2b","x":285.6,"y":40.1},{"f":"sp2b","x":285.8,"y":37.3},{"f":"sp2b","x":286.0,"y":35.9},{"f":"sp2b","x":286.4,"y":35.7},{"f":"sp2b","x":290.6,"y":35.7},
      {"f":"mb","x":283.4,"y":35.7},{"f":"mb","x":285.4,"y":35.7},{"f":"mb","x":285.8,"y":37.3},{"f":"mb","x":286.2,"y":38.4},{"f":"mb","x":286.6,"y":39.0},{"f":"mb","x":287.0,"y":38.1},{"f":"mb","x":287.4,"y":36.7},{"f":"mb","x":287.8,"y":35.8},{"f":"mb","x":290.6,"y":35.7},
      {"f":"gb","x":283.4,"y":35.3},{"f":"gb","x":287.6,"y":35.3},{"f":"gb","x":288.0,"y":36.5},{"f":"gb","x":288.4,"y":38.2},{"f":"gb","x":288.8,"y":39.0},{"f":"gb","x":289.2,"y":38.3},{"f":"gb","x":289.6,"y":36.7},{"f":"gb","x":290.0,"y":35.6},{"f":"gb","x":290.6,"y":35.3},
      {"f":"pb","x":283.4,"y":35.5},{"f":"pb","x":290.6,"y":35.5}
    ]},
    "mark": {"type": "line", "strokeWidth": 1.3, "strokeDash": [7, 2, 2, 2]},
    "encoding": {
      "x": {"field": "x", "type": "quantitative"},
      "y": {"field": "y", "type": "quantitative"},
      "color": {"field": "f", "type": "nominal", "legend": null, "scale": {"domain": ["sp2a","COa","ma","ca","sp2b","mb","gb","pb"], "range": ["#2ed12e","#333333","#ff40ff","#30dede","#3355ff","#ff50ff","#2e9e2e","#5040b0"]}}
    }
  },
  {
    "data": {"values": [
      {"s":"CQDs₋₈₀₀","x":283.4,"y":68.9},{"s":"CQDs₋₈₀₀","x":283.6,"y":69.1},{"s":"CQDs₋₈₀₀","x":283.8,"y":69.5},{"s":"CQDs₋₈₀₀","x":284.0,"y":70.8},{"s":"CQDs₋₈₀₀","x":284.2,"y":74.0},{"s":"CQDs₋₈₀₀","x":284.4,"y":80.2},{"s":"CQDs₋₈₀₀","x":284.6,"y":87.8},{"s":"CQDs₋₈₀₀","x":284.7,"y":91.0},{"s":"CQDs₋₈₀₀","x":284.8,"y":92.7},{"s":"CQDs₋₈₀₀","x":284.9,"y":92.8},{"s":"CQDs₋₈₀₀","x":285.0,"y":92.0},{"s":"CQDs₋₈₀₀","x":285.2,"y":88.5},{"s":"CQDs₋₈₀₀","x":285.4,"y":84.4},{"s":"CQDs₋₈₀₀","x":285.6,"y":80.9},{"s":"CQDs₋₈₀₀","x":285.8,"y":78.4},{"s":"CQDs₋₈₀₀","x":286.0,"y":76.8},{"s":"CQDs₋₈₀₀","x":286.4,"y":74.4},{"s":"CQDs₋₈₀₀","x":286.8,"y":72.6},{"s":"CQDs₋₈₀₀","x":287.2,"y":71.2},{"s":"CQDs₋₈₀₀","x":287.6,"y":70.3},{"s":"CQDs₋₈₀₀","x":288.0,"y":69.7},{"s":"CQDs₋₈₀₀","x":289.0,"y":69.4},{"s":"CQDs₋₈₀₀","x":289.6,"y":69.5},{"s":"CQDs₋₈₀₀","x":290.0,"y":69.9},{"s":"CQDs₋₈₀₀","x":290.4,"y":70.3},{"s":"CQDs₋₈₀₀","x":290.6,"y":69.5},
      {"s":"CQDs","x":283.4,"y":35.7},{"s":"CQDs","x":283.8,"y":36.7},{"s":"CQDs","x":284.0,"y":39.4},{"s":"CQDs","x":284.2,"y":45.0},{"s":"CQDs","x":284.4,"y":51.9},{"s":"CQDs","x":284.6,"y":57.4},{"s":"CQDs","x":284.8,"y":59.5},{"s":"CQDs","x":285.0,"y":58.1},{"s":"CQDs","x":285.2,"y":53.3},{"s":"CQDs","x":285.4,"y":47.7},{"s":"CQDs","x":285.6,"y":43.6},{"s":"CQDs","x":285.8,"y":41.5},{"s":"CQDs","x":286.2,"y":40.4},{"s":"CQDs","x":286.6,"y":39.8},{"s":"CQDs","x":287.0,"y":38.8},{"s":"CQDs","x":287.4,"y":37.8},{"s":"CQDs","x":287.8,"y":37.6},{"s":"CQDs","x":288.2,"y":38.5},{"s":"CQDs","x":288.6,"y":39.4},{"s":"CQDs","x":288.9,"y":39.4},{"s":"CQDs","x":289.2,"y":38.8},{"s":"CQDs","x":289.6,"y":37.1},{"s":"CQDs","x":290.0,"y":36.0},{"s":"CQDs","x":290.6,"y":35.7},
      {"s":"C₆₀","x":283.4,"y":4.9},{"s":"C₆₀","x":283.8,"y":5.8},{"s":"C₆₀","x":284.0,"y":8.3},{"s":"C₆₀","x":284.2,"y":13.9},{"s":"C₆₀","x":284.4,"y":23.5},{"s":"C₆₀","x":284.6,"y":28.4},{"s":"C₆₀","x":284.8,"y":25.6},{"s":"C₆₀","x":285.0,"y":18.0},{"s":"C₆₀","x":285.2,"y":10.4},{"s":"C₆₀","x":285.4,"y":7.2},{"s":"C₆₀","x":285.6,"y":6.5},{"s":"C₆₀","x":286.0,"y":6.2},{"s":"C₆₀","x":286.4,"y":6.6},{"s":"C₆₀","x":287.0,"y":6.1},{"s":"C₆₀","x":287.4,"y":5.6},{"s":"C₆₀","x":288.0,"y":6.1},{"s":"C₆₀","x":289.0,"y":6.0},{"s":"C₆₀","x":290.0,"y":6.4},{"s":"C₆₀","x":290.6,"y":6.1}
    ]},
    "layer": [
      {
        "transform": [{"filter": "datum.s != 'C₆₀'"}],
        "mark": {"type": "line", "strokeWidth": 3.4},
        "encoding": {
          "x": {"field": "x", "type": "quantitative"},
          "y": {"field": "y", "type": "quantitative"},
          "color": {"field": "s", "type": "nominal", "legend": null, "scale": {"domain": ["CQDs₋₈₀₀","CQDs"], "range": ["#ff1010","#222222"]}}
        }
      },
      {
        "mark": {"type": "line", "strokeWidth": 1.8},
        "encoding": {
          "x": {"field": "x", "type": "quantitative", "scale": {"domain": [283.4, 290.6], "nice": false, "zero": false},
                "axis": {"title": "B. E. (eV)", "titleFontSize": 14, "values": [284,285,286,287,288,289,290], "format": "d", "labelExpr": "datum.value % 2 == 0 ? datum.label : ''", "tickSize": {"condition": {"test": "datum.value % 2 == 0", "value": -5}, "value": -3}}},
          "y": {"field": "y", "type": "quantitative", "scale": {"domain": [0.7, 100.7], "nice": false, "zero": false}, "axis": {"title": "Intensity (a.u.)", "titleFontSize": 12.5, "titlePadding": 6}},
          "color": {"field": "s", "type": "nominal", "scale": {"domain": ["CQDs₋₈₀₀","CQDs","C₆₀"], "range": ["#1a1aff","#ff1010","#000000"]},
                    "legend": {"legendX": 224.5, "legendY": 10.5, "labelFontSize": 16, "labelOffset": 16, "symbolStrokeWidth": 3}}
        }
      }
    ],
    "resolve": {"scale": {"color": "independent"}}
  },
  {
    "data": {"values": [{"x":285.78,"y":94.4,"t":"sp² carbon"},{"x":286.26,"y":81.9,"t":"C-O"},{"x":287.18,"y":78.8,"t":"C=O"},{"x":285.73,"y":58.1,"t":"sp² carbon"},{"x":286.26,"y":43.3,"t":"C-O"},{"x":286.97,"y":42.6,"t":"C=O"},{"x":288.7,"y":41.5,"t":"COOH"},{"x":285.7,"y":26.3,"t":"sp² carbon"}]},
    "mark": {"type": "text", "fontSize": 11, "fontWeight": "bold"},
    "encoding": {"x": {"field": "x", "type": "quantitative"}, "y": {"field": "y", "type": "quantitative"}, "text": {"field": "t"}}
  },
  {
    "data": {"values": [{"x":282.85,"y":99.9,"t":"d)"}]},
    "mark": {"type": "text", "fontSize": 17, "fontWeight": "bold", "align": "left"},
    "encoding": {"x": {"field": "x", "type": "quantitative"}, "y": {"field": "y", "type": "quantitative"}, "text": {"field": "t"}}
  }
  ]
}
]
}
]
}
